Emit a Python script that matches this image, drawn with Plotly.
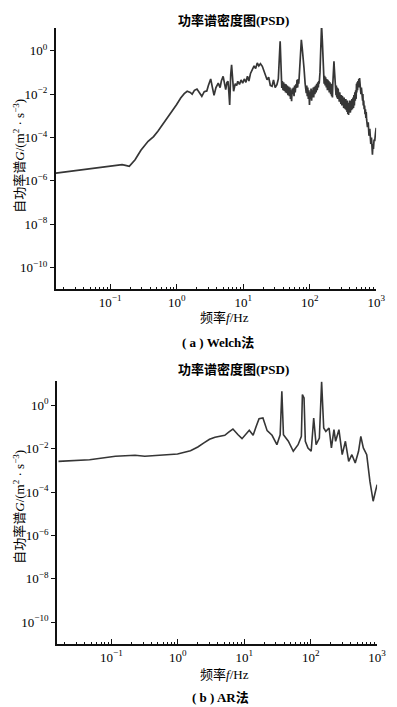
import plotly.graph_objects as go

# ---------------- data ----------------
# Welch PSD
welch_freq_a = [0.0153, 0.03, 0.06, 0.1, 0.151, 0.17, 0.194, 0.237, 0.29, 0.372, 0.45, 0.522, 0.65, 0.822,
                1.0, 1.15, 1.3, 1.44, 1.6, 1.71, 1.85, 2.02, 2.2, 2.39, 2.6, 2.84, 3.0, 3.25, 3.45, 3.65,
                3.9, 4.22, 4.5, 4.7, 5.0, 5.2, 5.47, 5.7, 5.92, 6.1, 6.27, 6.5, 6.7, 6.95, 7.18, 7.6, 8.0,
                8.3, 8.8, 9.3, 9.84, 10.4, 11.0, 11.6, 12.2, 12.9, 13.8, 14.6, 15.4, 16.3, 17.2, 18.2, 19.4,
                20.5, 21.6, 22.9, 24.2, 25.6, 27.2, 28.6, 30.3, 32.2, 33.8, 35.0, 36.0, 36.8]
welch_psd_a = [2.3e-6, 3.0e-6, 3.9e-6, 4.8e-6, 5.6e-6, 5.2e-6, 4.7e-6, 9.5e-6, 2.6e-5, 6.7e-5, 1.1e-4, 1.95e-4,
               5.0e-4, 1.35e-3, 3.3e-3, 6.6e-3, 1.05e-2, 1.35e-2, 1.2e-2, 1.0e-2, 1.5e-2, 1.7e-2, 1.1e-2,
               7.9e-3, 1.3e-2, 1.4e-2, 2.5e-2, 5.0e-2, 2.0e-2, 8.8e-3, 2.0e-2, 3.2e-2, 2.0e-2, 4.0e-2,
               6.6e-2, 3.0e-2, 1.6e-2, 3.5e-2, 3.9e-2, 1.2e-2, 3.2e-3, 8.0e-2, 0.226, 0.05, 0.0135, 0.03,
               0.025, 0.039, 0.028, 0.045, 0.032, 0.05, 0.035, 0.066, 0.04, 0.09, 0.133, 0.2, 0.15, 0.271,
               0.2, 0.25, 0.191, 0.12, 0.08, 0.046, 0.06, 0.025, 0.023, 0.045, 0.02, 0.027, 0.05, 0.3,
               2.71, 0.4]
welch_freq_b = [37.5, 38.1, 38.8, 39.8, 40.6, 41.5, 42.4, 43.3, 44.2, 45.1, 46.1, 47.2, 48.3, 49.5, 50.5,
                51.5, 52.5, 53.5, 54.6, 55.8, 57.0, 58.2, 59.4, 60.7, 62.0, 63.3, 64.6, 66.0, 67.2, 68.5,
                69.6, 70.8, 73.0, 75.0, 77.5, 80.0, 82.2]
welch_psd_b = [0.05, 0.019, 0.04, 0.015, 0.035, 0.014, 0.03, 0.012, 0.028, 0.011, 0.025, 0.009, 0.022, 0.008,
               0.02, 0.006, 0.015, 0.0047, 0.018, 0.01, 0.02, 0.008, 0.025, 0.012, 0.028, 0.019, 0.045, 0.02,
               0.05, 0.03, 0.06, 0.16, 0.9, 3.2, 1.2, 0.2, 0.16]
welch_freq_c = [85.5, 87.2, 88.9, 90.5, 92.0, 93.7, 95.5, 97.4, 99.4, 101, 103, 105, 107, 109, 111, 113, 115,
                117.5, 120, 122.5, 125, 127.5, 130, 132.5, 135, 137, 139, 143, 147, 151, 155, 158]
welch_psd_c = [0.03, 0.015, 0.0112, 0.025, 0.008, 0.02, 0.006, 0.015, 0.0032, 0.012, 0.006, 0.018, 0.005,
               0.015, 0.007, 0.02, 0.007, 0.022, 0.01, 0.025, 0.012, 0.03, 0.015, 0.035, 0.02, 0.04, 0.03,
               0.1, 1.0, 15.0, 3.0, 0.3]
welch_freq_d = [162, 165, 168, 171, 174, 178, 181, 185, 188, 191, 194, 197, 202, 207, 211, 214, 217, 220, 223,
                226, 229, 232, 235, 238, 242, 245, 249, 252, 256, 260, 264, 268, 272, 275, 279, 283, 287, 290,
                295, 300, 305, 310, 317, 325, 330, 335, 340, 345, 350, 355, 360, 365, 370, 375, 380, 385, 390,
                395, 402, 410, 417, 425, 432, 440, 448, 456, 463, 470, 478, 485, 492, 500, 506, 511, 518, 525,
                532, 540, 548, 555, 563, 572, 580, 590, 600, 610, 618, 625, 632, 640, 650, 660, 670, 680, 690,
                700, 709, 718, 740, 760, 780, 802, 830, 850, 865, 879, 895, 910, 930, 951, 975, 1000]
welch_psd_d = [0.078, 0.03, 0.07, 0.025, 0.06, 0.02, 0.05, 0.015, 0.046, 0.018,
               0.04, 0.012, 0.035, 0.01, 0.03, 0.008, 0.025, 0.007, 0.03, 0.05,
               0.12, 0.325, 0.15, 0.06, 0.02, 0.03, 0.009, 0.025, 0.007, 0.02,
               0.006, 0.018, 0.005, 0.015, 0.0045, 0.012, 0.004, 0.01, 0.0035, 0.009,
               0.003, 0.008, 0.006, 0.0023, 0.007, 0.0022, 0.006, 0.002, 0.006, 0.0018,
               0.005, 0.0015, 0.005, 0.0012, 0.004, 0.0011, 0.004, 0.0015, 0.005, 0.0014,
               0.005, 0.0018, 0.006, 0.002, 0.007, 0.0023, 0.009, 0.003, 0.012, 0.005,
               0.015, 0.006, 0.03, 0.012, 0.035, 0.015, 0.04, 0.02, 0.05, 0.02,
               0.055, 0.015, 0.03, 0.01, 0.02, 0.006, 0.012, 0.005, 0.01, 0.003,
               0.005, 0.002, 0.003, 0.0012, 0.002, 8e-4, 1.5e-3, 7e-4,
               3e-4, 5e-4, 1.2e-4, 2.5e-4, 5e-5, 1e-4, 2.5e-5, 1.6e-5, 5e-5, 3e-5, 8e-5, 6.7e-5,
               1.5e-4, 2.75e-4]

welch_freq = welch_freq_a + welch_freq_b + welch_freq_c + welch_freq_d
welch_psd = welch_psd_a + welch_psd_b + welch_psd_c + welch_psd_d
assert len(welch_freq) == len(welch_psd)

# AR PSD
ar_freq = [0.016, 0.047, 0.115, 0.227, 0.319, 0.50, 0.99, 1.55, 2.0, 2.44, 3.0, 3.63, 5.09, 5.9, 6.75, 8.0,
           9.25, 11.9, 13.6, 15.0, 16.7, 19.1, 22.1, 26.2, 31.0, 34.7, 36.8, 38.9, 46.1, 54.7, 64.6, 72.4,
           75, 79.4, 83, 91, 101.7, 111, 120.5, 135, 146, 157, 169, 189, 205, 224, 237, 266, 298, 333,
           373, 417, 468, 525, 568, 620, 697, 778, 871, 944, 1000]
ar_psd = [2.6e-3, 3.1e-3, 4.5e-3, 5.0e-3, 4.5e-3, 5.0e-3, 5.7e-3, 8.1e-3, 1.2e-2, 0.018, 0.027, 0.0335,
          0.0415, 0.06, 0.081, 0.045, 0.029, 0.071, 0.0415, 0.1, 0.24, 0.26, 0.068, 0.0415, 0.0153, 0.044,
          4.4, 0.044, 0.022, 7.6e-3, 0.0153, 0.037, 3.1, 2.2, 0.022, 0.0108, 7.6e-3, 0.26, 0.0153, 0.031,
          12.0, 0.09, 0.063, 0.09, 0.0108, 0.075, 0.022, 0.075, 5.3e-3, 0.022, 2.6e-3, 5.3e-3, 2.2e-3,
          7.6e-3, 0.037, 0.0108, 5.3e-3, 3.2e-4, 3.8e-5, 1.1e-4, 2.2e-4]
assert len(ar_freq) == len(ar_psd)

y_tickvals = [1e-10, 1e-8, 1e-6, 1e-4, 1e-2, 1e0]
y_ticktext = ["10<sup>−10</sup>", "10<sup>−8</sup>", "10<sup>−6</sup>", "10<sup>−4</sup>",
              "10<sup>−2</sup>", "10<sup>0</sup>"]
x_tickvals = [0.1, 1, 10, 100, 1000]
x_ticktext = ["10<sup>−1</sup>", "10<sup>0</sup>", "10<sup>1</sup>", "10<sup>2</sup>", "10<sup>3</sup>"]

title_text = "功率谱密度图(PSD)"
xlabel_text = "频率<i>f</i>/Hz"
ylabel_text = "自功率谱<i>G</i>/(m<sup>2</sup> · s<sup>−3</sup>)"
captions = ["( a ) Welch法", "( b ) AR法"]

# ---------------- layout helpers ----------------
W, H = 397, 707
FONT = "'Liberation Serif', 'Noto Sans CJK SC', serif"
LINE = "#363636"
AX = "#111111"

def px(x):
    return x / W

def py(y):
    return 1 - y / H

minor_vals = [m * 10 ** e for e in range(-2, 3) for m in range(2, 10)]
minor_vals = [v for v in minor_vals if v >= 0.0153]

fig = go.Figure()
fig.add_trace(go.Scatter(x=welch_freq, y=welch_psd, mode="lines",
                         line=dict(color=LINE, width=1.7), xaxis="x", yaxis="y",
                         showlegend=False))
fig.add_trace(go.Scatter(x=ar_freq, y=ar_psd, mode="lines",
                         line=dict(color=LINE, width=1.6), xaxis="x2", yaxis="y2",
                         showlegend=False))

def xaxis(domain, anchor):
    return dict(type="log", domain=domain, anchor=anchor, range=[-1.816, 3.0],
                showline=True, linecolor=AX, linewidth=2, mirror=False,
                showgrid=False, zeroline=False,
                tickmode="array", tickvals=x_tickvals, ticktext=x_ticktext,
                ticks="inside", ticklen=5, tickwidth=1, tickcolor=AX,
                minor=dict(tickmode="array", tickvals=minor_vals, ticks="inside",
                           ticklen=2.5, tickwidth=1, tickcolor=AX, showgrid=False),
                tickfont=dict(family=FONT, size=13, color="#000"))

def yaxis(domain, anchor, rng):
    return dict(type="log", domain=domain, anchor=anchor, range=rng,
                showline=True, linecolor=AX, linewidth=2, mirror=False,
                showgrid=False, zeroline=False,
                tickmode="array", tickvals=y_tickvals, ticktext=y_ticktext,
                ticks="outside", ticklen=4, tickwidth=1, tickcolor=AX,
                tickfont=dict(family=FONT, size=13, color="#000"))

fig.update_layout(
    width=W, height=H, margin=dict(l=0, r=0, t=0, b=0),
    paper_bgcolor="white", plot_bgcolor="white",
    xaxis=xaxis([px(49), px(376.7)], "y"),
    yaxis=yaxis([py(281), py(20)], "x", [-10.98, 1.046]),
    xaxis2=xaxis([px(50.3), px(377.7)], "y2"),
    yaxis2=yaxis([py(636), py(373.3)], "x2", [-11.0, 1.106]),
)

ann = []
def add(text, x, y, size=13, angle=0):
    ann.append(dict(text=text, x=px(x), y=py(y), xref="paper", yref="paper",
                    showarrow=False, xanchor="center", yanchor="middle", textangle=angle,
                    font=dict(family=FONT, size=size, color="#000")))

add("<b>" + title_text + "</b>", 231, 13)
add("<b>" + title_text + "</b>", 231, 361)
add(xlabel_text, 222, 309)
add(xlabel_text, 222, 666)
add("<b>" + captions[0] + "</b>", 215, 334)
add("<b>" + captions[1] + "</b>", 217, 689)
add(ylabel_text, 11, 148, angle=-90)
add(ylabel_text, 11, 499, angle=-90)

fig.update_layout(annotations=ann)
fig.write_html("out.html")
